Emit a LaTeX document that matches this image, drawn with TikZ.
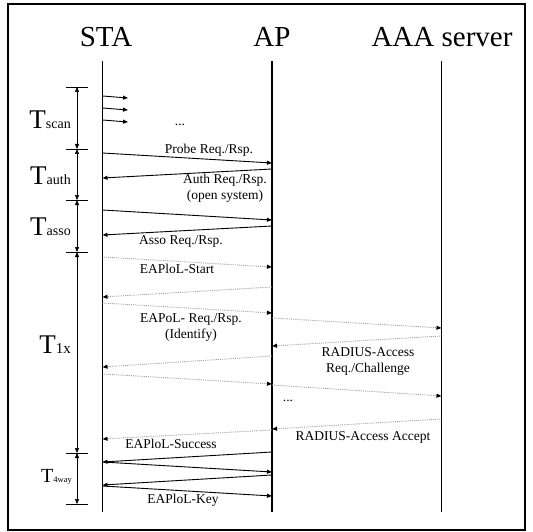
\documentclass[tikz,border=0pt]{standalone}
\usepackage{fontspec}
\setmainfont{Liberation Serif}
\usetikzlibrary{arrows.meta}

\tikzset{
  msg/.style={-{Triangle[length=5pt,width=4pt]}, line width=0.9pt},
  dmsg/.style={-{Triangle[length=5pt,width=4pt,black]}, line width=0.9pt, gray!75, densely dotted},
  life/.style={line width=1.7pt},
  lbl/.style={font=\fontsize{13.5}{16}\selectfont, inner sep=0pt, align=center},
  head/.style={font=\fontsize{29}{32}\selectfont, inner sep=0pt, anchor=base},
  tlbl/.style={inner sep=0pt, anchor=base east},
  tbar/.style={{Triangle[length=5pt,width=4pt]}-{Triangle[length=5pt,width=4pt]}, line width=0.5pt}
}
\newcommand{\mensaje}[5][msg]{\draw[#1] (#2 |- 0,#3) -- (#4 |- 0,#5);}
\newcommand{\tsub}[2]{{\fontsize{27}{30}\selectfont T}{\fontsize{#2}{16}\selectfont #1}}

\begin{document}
\begin{tikzpicture}[x=1pt, y=-1pt]
    \useasboundingbox (0,0) rectangle (533,532);

    % Marco
    \draw[line width=2pt] (7.5,4.5) rectangle (525,530);

    % Entidades
    \node[head] (sta) at (106,47) {STA};
    \node[head] (ap) at (272,47) {AP};
    \node[head] (aaa) at (442,47) {AAA server};

    % Lineas de vida
    \coordinate (sta top) at (102.5,61);
    \coordinate (ap top) at (272,61);
    \coordinate (aaa top) at (441.5,61);
    \coordinate (sta bot) at (102.5,512);
    \coordinate (ap bot) at (272,512);
    \coordinate (aaa bot) at (441.5,512);
    \draw[life] (sta top) -- (sta bot);
    \draw[life] (ap top) -- (ap bot);
    \draw[life] (aaa top) -- (aaa bot);

    % Escala de tiempos
    \foreach \n/\ty in {0/87, 1/149, 2/200, 3/252, 4/453, 5/504} {
        \coordinate (t\n) at (77,\ty);
        \draw[line width=0.8pt] (66,\ty) -- (88,\ty);
    }
    \foreach \a/\b in {t0/t1, t1/t2, t2/t3, t3/t4, t4/t5}
        \draw[tbar] (\a) -- (\b);

    \node[tlbl] (tscan) at (71,129) {\tsub{scan}{14}};
    \node[tlbl] (tauth) at (71,185) {\tsub{auth}{14}};
    \node[tlbl] (tasso) at (71,235) {\tsub{asso}{14}};
    \node[tlbl] (t1x) at (71,353) {\tsub{1x}{15}};
    \node[tlbl] (t4way) at (72,482) {{\fontsize{20}{22}\selectfont T}{\fontsize{8.5}{10}\selectfont 4way}};

    % Escaneo
    \foreach \sy in {96, 108, 120}
        \draw[msg] (sta top |- 0,\sy) -- ++(25.5,2);
    \node[lbl] (dots1) at (180,125) {...};

    % Probe, Auth, Asso
    \mensaje{sta top}{153}{ap top}{163}
    \node[lbl, anchor=base] (probe) at (209,154) {Probe Req./Rsp.};
    \mensaje{ap top}{169}{sta top}{178}
    \node[lbl, anchor=base] (auth) at (225,200) {Auth Req./Rsp.\\(open system)};
    \mensaje{sta top}{210}{ap top}{220}
    \mensaje{ap top}{226}{sta top}{235}
    \node[lbl, anchor=base] (asso) at (181,244) {Asso Req./Rsp.};

    % 802.1X
    \mensaje[dmsg]{sta top}{257}{ap top}{267}
    \node[lbl, anchor=base] (start) at (177,273) {EAPloL-Start};
    \mensaje[dmsg]{ap top}{287}{sta top}{297}
    \mensaje[dmsg]{sta top}{303}{ap top}{313}
    \node[lbl, anchor=base] (ident) at (191,338) {EAPoL- Req./Rsp.\\(Identify)};
    \mensaje[dmsg]{ap top}{318}{aaa top}{328}
    \mensaje[dmsg]{aaa top}{336}{ap top}{346}
    \node[lbl, anchor=base] (chal) at (368,372) {RADIUS-Access\\Req./Challenge};
    \mensaje[dmsg]{ap top}{356}{sta top}{367}
    \mensaje[dmsg]{sta top}{374}{ap top}{384}
    \mensaje[dmsg]{ap top}{385}{aaa top}{396}
    \node[lbl] (dots2) at (288,401) {...};
    \mensaje[dmsg]{aaa top}{419}{ap top}{429}
    \node[lbl, anchor=base] (accept) at (363,440) {RADIUS-Access Accept};
    \mensaje[dmsg]{ap top}{430}{sta top}{439}
    \node[lbl, anchor=base] (success) at (171,448) {EAPloL-Success};

    % 4-way handshake
    \mensaje{ap top}{452}{sta top}{462}
    \mensaje{sta top}{462}{ap top}{472}
    \mensaje{ap top}{475}{sta top}{485}
    \mensaje{sta top}{486}{ap top}{496}
    \node[lbl, anchor=base] (key) at (183,503) {EAPloL-Key};
\end{tikzpicture}
\end{document}
